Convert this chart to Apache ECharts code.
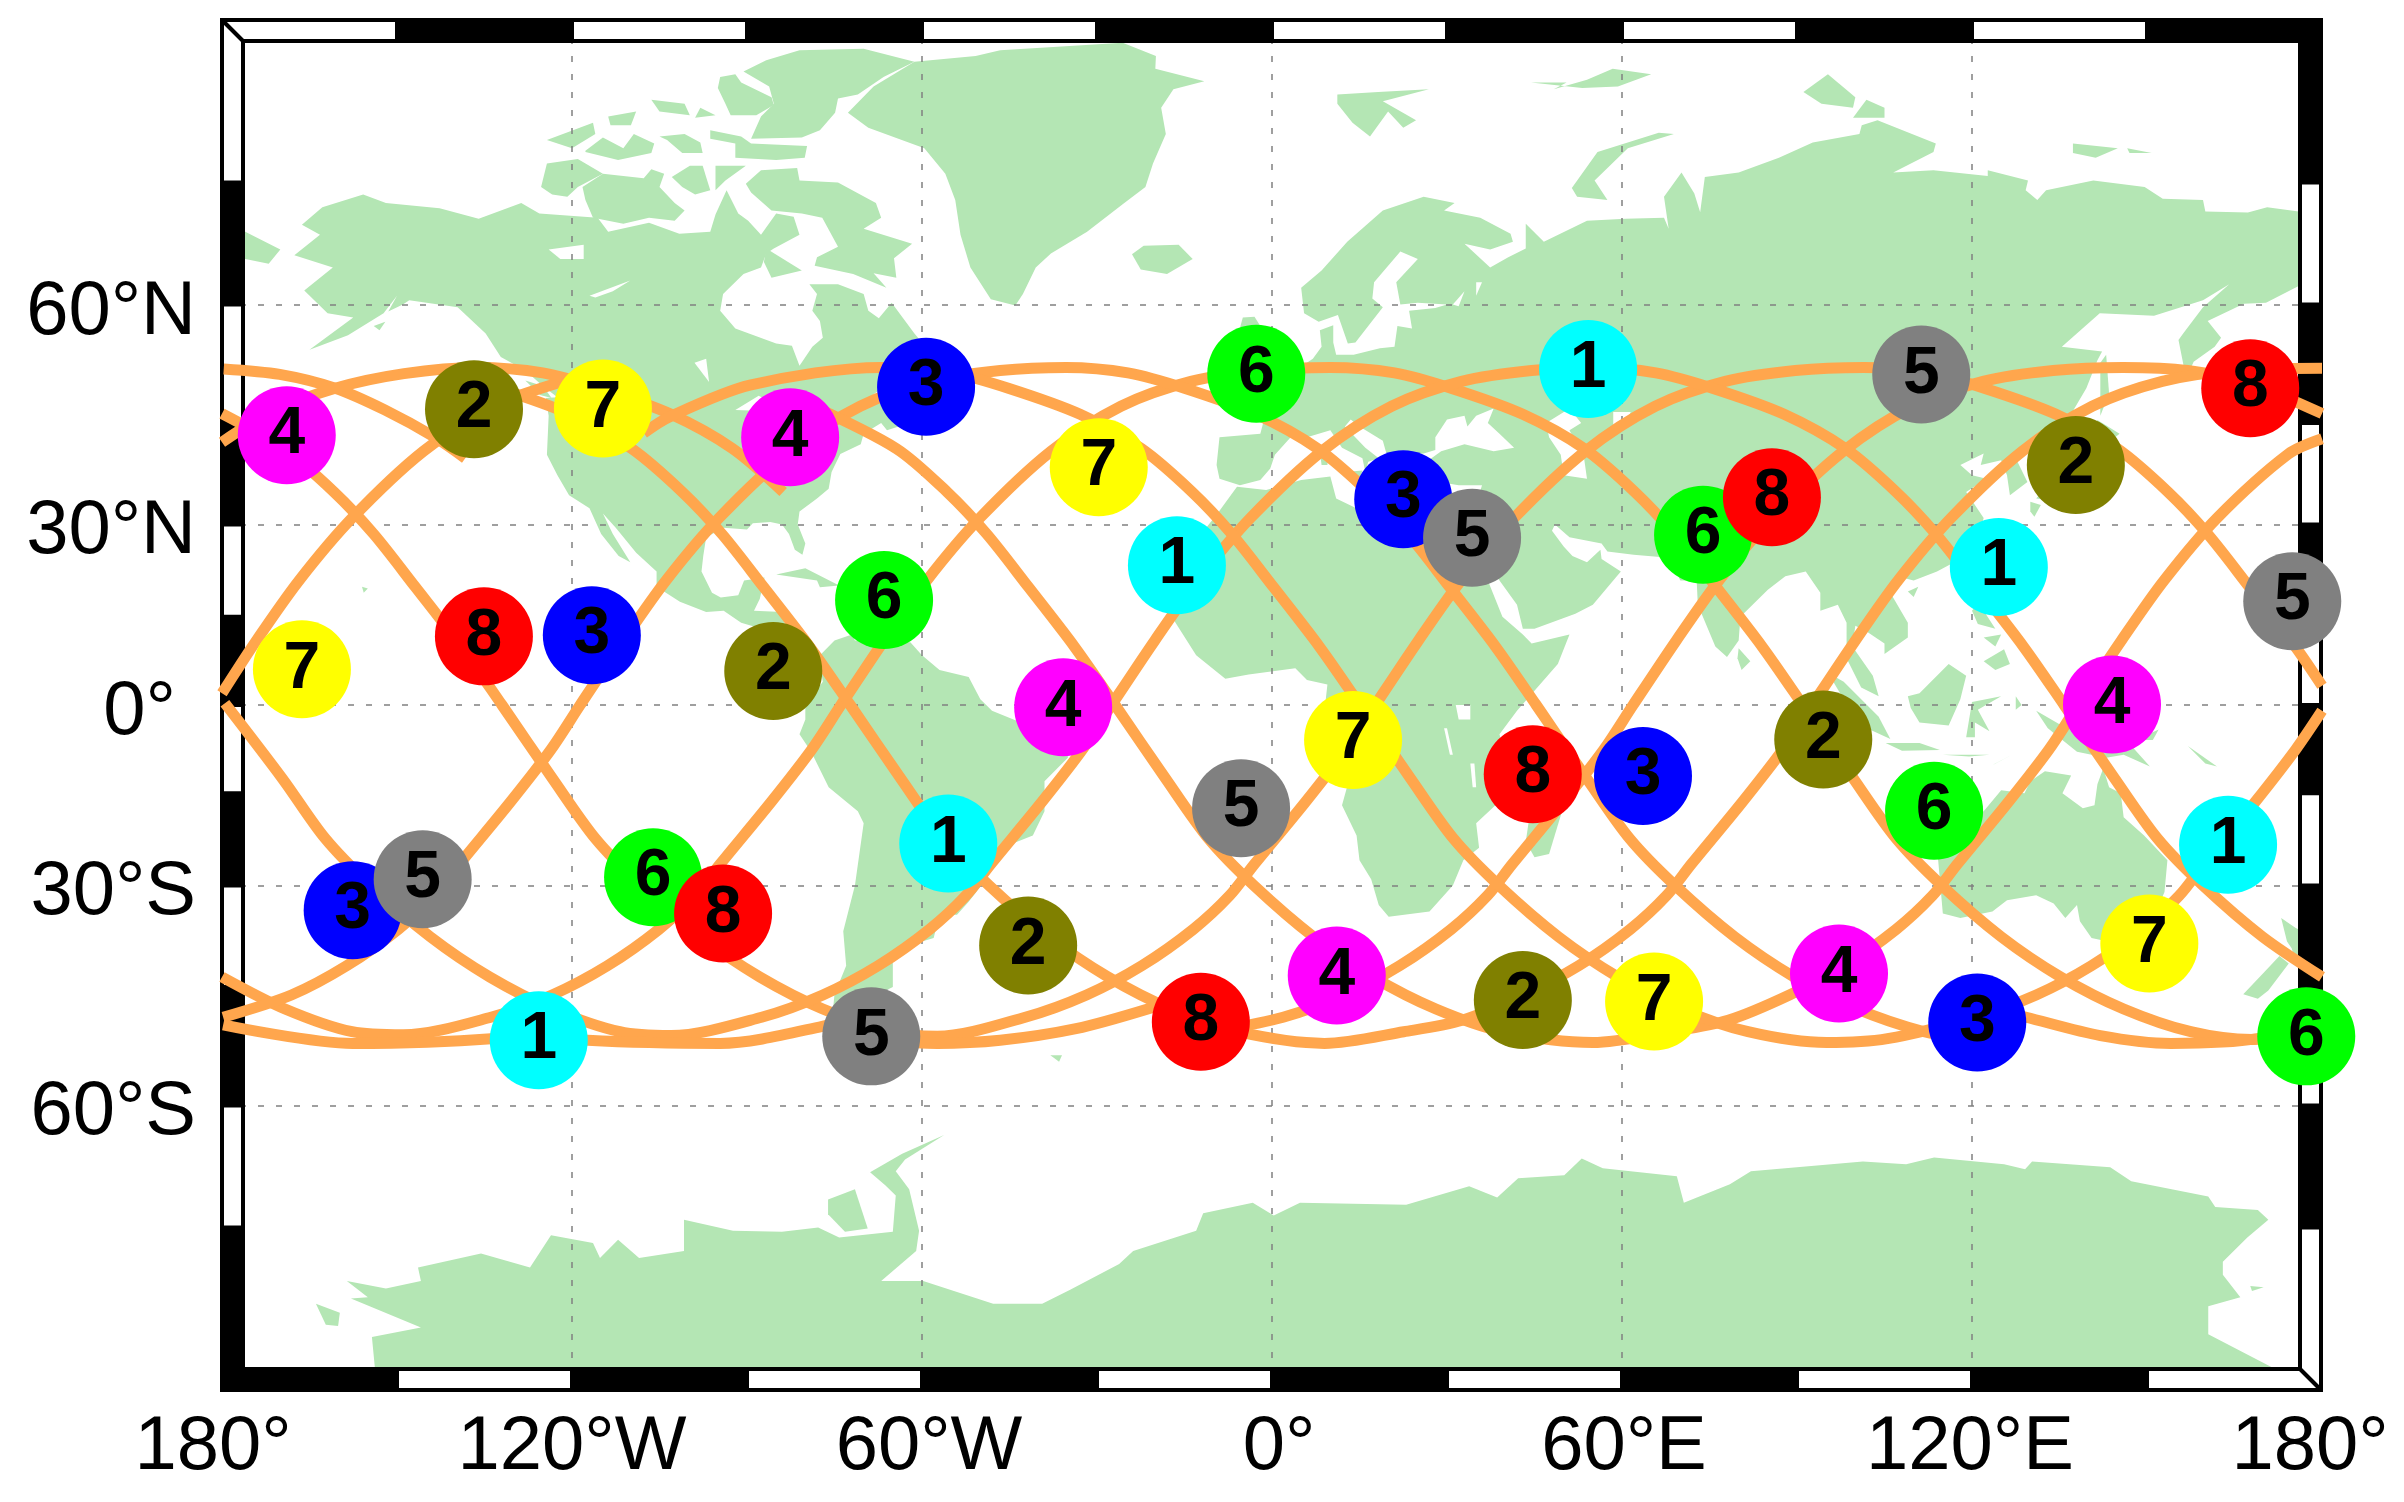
<!DOCTYPE html>
<html>
<head>
<meta charset="utf-8">
<title>Ground tracks</title>
<script src="https://cdn.jsdelivr.net/npm/echarts@6/dist/echarts.min.js"></script>
<style>
html, body { margin: 0; padding: 0; background: #fff; }
#chart { width: 2404px; height: 1502px; }
</style>
</head>
<body>
<div id="chart"></div>
<script>
// tick values and labels
const lonTicks = [-180, -120, -60, 0, 60, 120, 180];
const lonLabels = ['180°', '120°W', '60°W', '0°', '60°E', '120°E', '180°'];
const latTicks = [60, 30, 0, -30, -60];
const latLabels = ['60°N', '30°N', '0°', '30°S', '60°S'];

// frame blocks
const frameLons = [-180, -150, -120, -90, -60, -30, 0, 30, 60, 90, 120, 150, 180];
const frameLats = [85, 72.5, 60, 45, 30, 15, 0, -15, -30, -45, -60, -72.5, -85];

// satellite positions [lon, lat]
const sat1 = [[54.2, 52.2], [-16.3, 23.5], [-55.5, -23.3], [-125.7, -52.1], [124.6, 23.2], [163.9, -23.5]];
const sat2 = [[-136.8, 46.9], [-85.5, 5.8], [-41.8, -39.1], [43.0, -46.8], [94.5, -5.9], [137.8, 39.0]];
const sat3 = [[-59.3, 49.9], [-116.6, 11.9], [-157.6, -33.8], [22.5, 33.9], [63.6, -12.1], [120.9, -49.8]];
const sat4 = [[-168.9, 43.3], [-82.6, 43.0], [-35.8, -0.4], [11.1, -43.4], [97.2, -43.1], [144, 0.1]];
const sat5 = [[-145.6, -29.0], [-68.7, -51.6], [-5.3, -17.5], [34.3, 27.9], [111.3, 51.5], [174.9, 17.6]];
const sat6 = [[-2.7, 51.6], [-66.5, 17.8], [-106.1, -28.7], [73.9, 28.4], [113.5, -17.9], [177.3, -51.6]];
const sat7 = [[-114.7, 47.0], [-29.7, 38.7], [-166.3, 6.1], [13.9, -6.0], [65.5, -47.0], [150.4, -38.8]];
const sat8 = [[167.7, 49.7], [85.7, 34.2], [-135.1, 11.7], [-94.1, -34.3], [-12.2, -49.7], [44.7, -11.8]];

// ground track pieces [lon, lat]
const track1 = [[-180, 2], [-174.1, 11], [-166.8, 21], [-157.7, 31], [-145.5, 41], [-133.5, 47.3], [-121.5, 50.6], [-116.9, 51.2]];
const track2 = [[-179.7, 52.2], [-170.1, 51.5], [-160.6, 49.7], [-152.1, 46.8], [-143.5, 43], [-138.3, 40]];
const track3 = [[-180, 42.3], [-171.8, 46.4], [-160.6, 49.7], [-148.8, 51.6], [-136.3, 52.4], [-125, 51.7], [-115.3, 49.7], [-103, 46.2], [-92.5, 41.4], [-83.8, 35]];
const track4 = [[-180, 46.3], [-169.5, 41.4], [-160.8, 35], [-154, 28.5], [-146.9, 20], [-139, 10], [-132, 0], [-123.3, -12.6], [-116, -22.5], [-108.2, -30], [-98, -37.8], [-87.8, -43.6], [-77, -48], [-65.5, -51], [-57.4, -51.6], [-42.3, -49.1], [-31.8, -46.1], [-22.3, -42], [-13.5, -36.7], [-7.3, -31.6], [-3, -26.6], [5.7, -16.5], [12.7, -7.6], [17.7, 0], [25.1, 11], [32.4, 21], [41.5, 31], [53.7, 41], [65.7, 47.3], [77.7, 50.6], [89.7, 52], [101.4, 52.4], [112.4, 51.7], [122.1, 49.7], [134.4, 46.2], [144.9, 41.4], [153.6, 35], [160.4, 28.5], [167.5, 20], [175.4, 10], [180, 3.3]];
const track5 = [[-180, -43.6], [-169.2, -48], [-157.7, -51], [-148.9, -51.4], [-133.9, -49.1], [-123.4, -46.1], [-113.9, -42], [-105.1, -36.7], [-98.9, -31.6], [-94.6, -26.6], [-85.9, -16.5], [-78.9, -7.6], [-73.9, 0], [-66.5, 11], [-59.2, 21], [-50.1, 31], [-37.9, 41], [-25.9, 47.3], [-13.9, 50.6], [-1.9, 52], [10, 52.4], [21, 51.7], [30.7, 49.7], [43, 46.2], [53.5, 41.4], [62.2, 35], [69, 28.5], [76.1, 20], [84, 10], [91, 0], [99.7, -12.6], [107, -22.5], [114.8, -30], [125, -37.8], [135.2, -43.6], [146, -48], [157.5, -51], [168, -52], [174, -51.5], [180, -50.1]];
const track6 = [[-179.5, 0.3], [-169.6, -12.6], [-162.3, -22.5], [-154.5, -30], [-144.3, -37.8], [-134.1, -43.6], [-123.3, -48], [-111.8, -51], [-103, -51.5], [-87.5, -49.1], [-77, -46.1], [-67.5, -42], [-58.7, -36.7], [-52.5, -31.6], [-48.2, -26.6], [-39.5, -16.5], [-32.5, -7.6], [-27.5, 0], [-20.1, 11], [-12.8, 21], [-3.7, 31], [8.5, 41], [20.5, 47.3], [32.5, 50.6], [44.5, 52], [55.5, 52.4], [65.8, 51.7], [75.5, 49.7], [87.8, 46.2], [98.3, 41.4], [107, 35], [113.8, 28.5], [120.9, 20], [128.8, 10], [135.8, 0], [144.5, -12.6], [151.8, -22.5], [159.6, -30], [169.8, -37.8], [180, -43.6]];
const track7 = [[-179.8, -49.1], [-168.1, -46.1], [-158.6, -42], [-149.8, -36.7], [-143.6, -31.6], [-139.3, -26.6], [-130.6, -16.5], [-123.6, -7.6], [-118.6, 0], [-111.2, 11], [-103.9, 21], [-94.8, 31], [-82.6, 41], [-70.6, 47.3], [-58.6, 50.6], [-46.6, 52], [-35.3, 52.4], [-24.7, 51.7], [-15, 49.7], [-2.7, 46.2], [7.8, 41.4], [16.5, 35], [23.3, 28.5], [30.4, 20], [38.3, 10], [45.3, 0], [54, -12.6], [61.3, -22.5], [69.1, -30], [79.3, -37.8], [89.5, -43.6], [100.3, -48], [111.8, -51], [117.9, -51.6]];
const track8 = [[-179.8, -50.1], [-157.6, -52.5], [-133.9, -51.9], [-126.3, -50.6]];
const track9 = [[123.1, -47.9], [129.3, -49.1], [142, -51.5], [154.1, -52.5], [168.9, -51.9], [180, -49.1]];
const track10 = [[-126.3, -51.2], [-117.3, -52.1], [-94.6, -52.5], [-77.1, -50.3], [-70.6, -48.6]];
const track11 = [[-67.2, -52.1], [-57.4, -52.5], [-46.6, -52.1], [-33.6, -50.6], [-21.3, -48], [-17.5, -46.8]];
const track12 = [[-8.9, -50.8], [1.9, -49.1], [12.4, -46.1], [21.9, -42], [30.7, -36.7], [36.9, -31.6], [41.2, -26.6], [49.9, -16.5], [56.9, -7.6], [61.9, 0], [69.3, 11], [76.6, 21], [85.7, 31], [97.9, 41], [109.9, 47.3], [121.9, 50.6], [133.9, 52], [145.9, 52.4], [157, 52], [168, 50.2], [180, 46.3]];
const track13 = [[-132.6, 49.7], [-120.3, 46.2], [-109.8, 41.4], [-101.1, 35], [-94.3, 28.5], [-87.2, 20], [-79.3, 10], [-72.3, 0], [-63.6, -12.6], [-56.3, -22.5], [-48.5, -30], [-38.3, -37.8], [-28.1, -43.6], [-17.3, -48], [-5.8, -51], [9, -52.5], [22.6, -51], [32.6, -49.5], [43.1, -46.1], [52.6, -42], [61.4, -36.7], [67.6, -31.6], [71.9, -26.6], [80.6, -16.5], [87.6, -7.6], [92.6, 0], [100, 11], [107.3, 21], [116.4, 31], [128.6, 41], [140.6, 47.3], [152.6, 50.6], [164.6, 52], [180, 52.3]];
const track14 = [[-79.2, 47.5], [-64.4, 41.4], [-55.7, 35], [-48.9, 28.5], [-41.8, 20], [-33.9, 10], [-26.9, 0], [-18.2, -12.6], [-10.9, -22.5], [-3.1, -30], [7.1, -37.8], [17.3, -43.6], [28.1, -48], [39.6, -51], [55, -52.4], [68.2, -51], [78.2, -49.5], [88.7, -46.1], [98.2, -42], [107, -36.7], [113.2, -31.6], [117.5, -26.6], [126.2, -16.5], [133.2, -7.6], [138.2, 0], [145.6, 11], [152.9, 21], [162, 31], [174.2, 40.6], [180, 42.8]];
const track15 = [[-107.7, 43.6], [-103.4, 45.8], [-89.5, 50.1], [-67, 52.4], [-54.9, 51.7], [-45.2, 49.7], [-32.9, 46.2], [-22.4, 41.4], [-13.7, 35], [-6.9, 28.5], [0.2, 20], [8.1, 10], [15.1, 0], [23.8, -12.6], [31.1, -22.5], [38.9, -30], [49.1, -37.8], [59.3, -43.6], [70.1, -48], [81.6, -51], [95.1, -52.4], [105.5, -51.9], [120.5, -49.1], [131, -46.1], [140.5, -42], [149.3, -36.7], [155.5, -31.6], [159.8, -26.6], [168.5, -16.5], [175.5, -7.6], [180, -1]];
const tracks = [track1, track2, track3, track4, track5, track6, track7, track8, track9, track10, track11, track12, track13, track14, track15];

// land outlines [lon, lat]
const americas = [[-166.3, 68.5], [-162.8, 70.2], [-155.8, 71.4], [-151.9, 70.6], [-142.7, 70.1], [-136, 69.1], [-128.7, 70.6], [-125.6, 69.6], [-115.6, 69.2], [-113.8, 67.8], [-106.8, 68.7], [-101.6, 67.6], [-96.3, 67.8], [-95.4, 69.5], [-93.5, 71.8], [-91.5, 69.6], [-89.8, 68.9], [-87.6, 67.5], [-85, 69.6], [-82, 69.3], [-81, 67.5], [-85.4, 66.1], [-86.7, 65.6], [-87.6, 64.1], [-90.6, 63.4], [-94.1, 61.2], [-94.6, 59.3], [-92, 57.2], [-85, 55.4], [-82.3, 55.1], [-81, 52.6], [-78.8, 55], [-77, 56.1], [-77.5, 58.1], [-78.8, 59.3], [-78, 61.2], [-79.3, 62.3], [-74.4, 62.3], [-70, 61.2], [-69.2, 59.3], [-67.4, 58.4], [-65.2, 60.2], [-61.3, 56.6], [-60, 55.5], [-56, 53], [-58, 51.3], [-60, 50.2], [-66, 50.2], [-69, 48.5], [-65, 49], [-64.5, 47.5], [-61, 46], [-64, 44.5], [-66, 44], [-67, 45], [-70, 43.5], [-70.5, 42], [-74, 40.6], [-75.5, 38], [-76, 35.5], [-78, 34], [-81, 32], [-81.3, 30], [-80, 27], [-80.5, 25.2], [-81.8, 26], [-82.8, 28.5], [-84, 30], [-86, 30.4], [-89, 30.2], [-90, 29.2], [-94, 29.5], [-97, 28], [-97.5, 25], [-97.8, 22.5], [-96, 19], [-94.5, 18.2], [-91.5, 18.6], [-90.5, 21], [-87, 21.5], [-87.8, 18], [-88.8, 16], [-84, 15.8], [-83.3, 13], [-83.7, 11], [-82, 9], [-79.5, 9.5], [-77.4, 8.6], [-75, 11], [-72, 12], [-71.5, 11], [-68, 11], [-62, 10.7], [-60, 8.5], [-57, 6], [-52, 4.8], [-50, 1], [-48, -1], [-44, -2.6], [-40, -3], [-37, -5], [-35, -7], [-35, -9], [-39, -13], [-39, -18], [-41, -22], [-45, -23.5], [-48.5, -26], [-49, -29], [-52, -32.5], [-54, -34.5], [-57, -34.5], [-58, -38], [-62, -39], [-65, -41], [-65, -45], [-67.5, -46], [-66, -48], [-69, -51], [-68, -53], [-65, -55], [-69, -55.5], [-74, -53], [-75.5, -50], [-75, -46], [-73, -42], [-73.5, -37], [-71.5, -30], [-70, -20], [-71, -18], [-76, -14], [-79, -8], [-81, -5], [-80, -2.5], [-80, 0], [-78.5, 2], [-77, 4], [-77.5, 7], [-78.5, 8.5], [-80, 7.3], [-83, 8.2], [-85.7, 10], [-87.5, 13], [-91, 14], [-94, 16], [-97, 15.8], [-101.5, 17.5], [-105.5, 20], [-105.5, 22.5], [-109, 25.5], [-112.5, 29.5], [-114.7, 31.7], [-113, 28.5], [-110, 24], [-112, 25], [-115, 28.5], [-117, 32.5], [-120.5, 34.5], [-122.5, 37.5], [-124.3, 40.5], [-124, 46], [-124.5, 48.4], [-122.5, 48.5], [-125, 50], [-128, 52], [-132.2, 53.7], [-134.8, 56.6], [-139.6, 59.7], [-147.9, 60.5], [-149, 60], [-151.5, 59.2], [-150, 61], [-152.3, 59], [-158.4, 56.4], [-165, 54.6], [-157.5, 58.5], [-161.9, 59], [-165.9, 61.6], [-161, 64.1], [-167.6, 65.4], [-163.2, 67.5]];
const greenland = [[-61.3, 82.2], [-68.3, 80.4], [-72.7, 78.4], [-69.2, 77.2], [-59.6, 75.5], [-56, 73.3], [-54.3, 70.9], [-53.4, 67.5], [-51.7, 64.1], [-48.2, 60.6], [-44, 59.9], [-42.7, 61.2], [-40.5, 64.1], [-37.9, 65.6], [-31.7, 67.8], [-25.6, 70.5], [-21.7, 72.1], [-20.4, 74.2], [-18.2, 76.7], [-19, 78.8], [-16.9, 80.2], [-11.6, 80.8], [-20, 81.7], [-19.9, 82.6], [-25.6, 83.5], [-46.6, 83], [-50.8, 82.6]];
const afroEurasia = [[-5.5, 36], [-9, 37], [-9.5, 39], [-9, 43], [-2, 43.5], [-1.2, 46], [-4.5, 48.4], [-1.5, 48.8], [1.5, 50.8], [4, 52], [7, 53.5], [8.5, 55], [8.2, 57], [10.5, 57.6], [10.5, 55.5], [11, 54], [14, 54], [18.5, 54.8], [21, 55], [21.5, 57.5], [24, 57.2], [23.5, 59.3], [28, 59.6], [30, 60], [25, 60.2], [22, 60], [21.3, 62.5], [25, 65], [22, 65.8], [17.5, 62.5], [17.2, 60.7], [19, 59.7], [16.5, 57.5], [14.3, 55.5], [13, 55.4], [11.3, 58.8], [8, 58], [5.5, 59], [5, 61.9], [8.5, 63.8], [12.9, 66.8], [19, 69.9], [26, 71.2], [31.3, 70.6], [29.5, 69.9], [35.7, 69.2], [40.9, 67.6], [41.3, 66.8], [37.4, 66], [33, 66.6], [37.4, 64.1], [40.5, 65.2], [43.5, 66.1], [43.5, 68.6], [46.6, 66.8], [54, 68.9], [60.6, 69.1], [67.2, 69.2], [68, 68.1], [67.2, 71.2], [70.2, 73.4], [72.4, 71.5], [74.6, 67.5], [71.5, 66.3], [73, 68], [74.2, 73], [80, 73.4], [86.9, 74.7], [92.7, 76], [100.7, 76.7], [101.1, 77.4], [103.8, 77.8], [113.8, 75.9], [113.4, 75.2], [106.5, 73.4], [113.4, 73.6], [122.7, 73.1], [122.7, 73.6], [129.6, 72.7], [129.2, 71.8], [131.2, 70.9], [132.7, 71.8], [140.8, 72.7], [149.6, 72.1], [152.7, 71], [159.6, 70.9], [160, 69.8], [167.3, 69.7], [170.6, 70.2], [176, 69.8], [180, 69.2], [180, 65], [177, 64.7], [179, 62.5], [176, 62.1], [170.4, 60.2], [166.6, 60.1], [160.4, 58.1], [162.7, 56.1], [161.6, 55], [158, 53.1], [156.7, 51], [155.4, 55.8], [156.2, 56.6], [159.6, 59.7], [164.1, 62.3], [159.6, 60.5], [151.2, 58.7], [141.9, 59], [135.4, 55], [142.3, 54.4], [141.5, 53.3], [139.6, 49.7], [135, 43.5], [130, 42.5], [127.5, 40], [129.5, 36.5], [126.5, 34.5], [126, 37.5], [125, 39.7], [121.5, 39], [122, 40.7], [118, 39], [120, 37.5], [122.5, 37], [119, 35], [122, 31], [121, 28], [118, 24.5], [114, 22.5], [110, 21], [108, 21.5], [106, 19], [109, 14], [109, 11.5], [105, 8.7], [105, 10.5], [102, 12.5], [100, 13.5], [99.5, 10], [103, 5], [104, 1.5], [101, 3], [98.5, 8], [98.5, 14], [97, 17], [94, 16], [94, 19], [91.5, 22.5], [88, 21.7], [85, 19.5], [80.3, 15], [80, 11], [78, 8.2], [76, 10], [73, 17], [72.8, 21], [70, 21], [69, 23], [67, 24.8], [62, 25.2], [57.5, 25.7], [56.5, 27], [51, 28], [48.5, 30], [48, 29], [50, 26.5], [51.5, 25], [54, 24], [56.3, 26], [56.5, 24.5], [59.8, 22.5], [55, 17], [52, 15.5], [45, 13], [43, 13], [42, 17], [39, 21], [35, 28], [34.5, 28], [32.5, 30], [34, 26], [37, 21], [39.5, 15], [43, 12], [44.5, 10.5], [51, 12], [49, 7], [42, -1], [39, -5], [40.5, -11], [40.5, -15], [35, -20], [35.5, -24], [32.8, -26], [31, -30], [27, -34], [20, -34.8], [18.3, -33], [17, -29], [15, -26], [14.5, -22], [12, -17], [13.7, -11], [12, -5], [9, -1], [9.5, 3.5], [6, 4.3], [4, 6.3], [-4, 5.2], [-8, 4.5], [-13, 8.5], [-17, 14.7], [-16.5, 19], [-17, 21], [-13, 27.5], [-9.5, 31.5], [-6, 35.8], [-1, 35.3], [5, 36.8], [10, 37.3], [11, 34], [15, 32.3], [20, 31.5], [20, 32.8], [25, 31.8], [31, 31.3], [32.5, 31], [34.5, 31.5], [36, 36], [32, 36], [27.5, 36.7], [26.5, 39.5], [29, 41], [33, 42], [38, 41], [41.5, 41.5], [39, 43.5], [37, 45], [38, 47], [35, 46], [33.5, 44.5], [33, 46], [30, 45.5], [28, 43], [28, 41.2], [26, 40.7], [23, 40.5], [24, 38], [22.7, 36.5], [21, 38], [19.5, 41], [19, 42.5], [15, 44.5], [13.5, 45.5], [12.5, 44.5], [16, 41.5], [18.3, 40], [16.5, 39.5], [16, 38], [15.5, 40], [12, 41.5], [10, 44], [6, 43], [3.2, 43], [0.5, 40.5], [-0.3, 38.5], [-2, 36.8]];
const chukotka = [[-180, 69], [-175, 67.5], [-170, 66], [-172, 64.5], [-176, 65], [-180, 65]];
const australia = [[113.5, -22], [114.2, -26], [115, -34.3], [118, -35], [123.5, -34], [126, -32.3], [131, -31.5], [134, -32.8], [136, -35], [138, -33], [138.5, -35.5], [140.5, -38], [146, -39], [150, -37.2], [153, -31], [153.5, -26], [149.5, -22], [146, -19], [145.5, -15], [143.5, -14], [142.5, -10.8], [141.5, -13.5], [141, -17], [139, -17.5], [135.5, -15], [137, -12], [132.5, -11.3], [130, -13], [129, -15], [125, -14.5], [122, -18], [117, -20.7]];
const antarctica = [[-153.8, -83.5], [-154.3, -81.4], [-145.9, -80.7], [-157.9, -78.5], [-155, -78.4], [-158.6, -77.1], [-151.9, -77.7], [-145.9, -77.1], [-146.4, -76], [-135.6, -74.8], [-127.2, -76], [-123.6, -73.2], [-116.4, -73.9], [-115.2, -75.2], [-112.1, -73.6], [-108.5, -75.2], [-100.8, -74.6], [-100.8, -71.8], [-92.4, -72.8], [-84, -72.9], [-77.8, -72.5], [-74.2, -73.4], [-65, -72.9], [-64.5, -69.5], [-66.3, -68.5], [-68.9, -67.2], [-63.4, -65.3], [-56.2, -63.3], [-62.9, -65.9], [-64.5, -67.1], [-62.2, -68.9], [-60.5, -72.8], [-61, -74.6], [-67, -77.1], [-59.8, -77.1], [-47.8, -78.9], [-39.4, -78.9], [-34.6, -77.8], [-26.2, -75.7], [-23.8, -74.6], [-13, -72.8], [-11.8, -71.2], [-3.3, -70.2], [0.3, -71.4], [4.8, -70.2], [23, -70.4], [33.8, -68.6], [38.6, -69.7], [42.2, -67.8], [50.1, -67.5], [53.1, -65.8], [56.7, -66.8], [69.4, -67.6], [70.6, -70.2], [78.5, -68.4], [82.1, -67.1], [101.3, -66.1], [108.7, -66.4], [113.5, -65.7], [125.5, -66.4], [129.1, -66.9], [130.3, -66.1], [143.7, -66.7], [147.3, -68.1], [160.5, -69.6], [161.7, -70.6], [169, -70.9], [170.8, -71.8], [167.2, -73.4], [163, -75.5], [163, -76.6], [166, -78.4], [160.5, -79.1], [160.5, -81.2], [171.4, -83.5], [175, -85], [-155, -85]];
const arcticIslands = [
    [[-90.6, 81.5], [-86.7, 82.3], [-81, 83], [-70, 83.1], [-61.3, 82.2], [-66.6, 81.1], [-71, 79.8], [-74.4, 79.5], [-74.9, 78.4], [-77.5, 77], [-80.6, 76.4], [-89.3, 76.3], [-87.6, 78.1], [-85.4, 79.1], [-86.2, 80.4]],
    [[-94.6, 81.1], [-92, 81.3], [-91, 80.7], [-85.8, 79.6], [-85.4, 79], [-88.4, 78.2], [-92.8, 78.2], [-93.7, 79.1], [-95, 80.3]],
    [[-106.4, 79.4], [-100.7, 79.1], [-99.8, 78.2], [-105, 78.5]],
    [[-98, 78.8], [-95.4, 78.2], [-98.9, 78]],
    [[-96.3, 77], [-91, 76.5], [-89.3, 75.9], [-79.7, 75.7], [-80.1, 74.7], [-85, 74.5], [-92, 74.7], [-92, 75.9], [-96.3, 76.3]],
    [[-105, 76.5], [-100.7, 76.7], [-98, 76], [-97.6, 75.1], [-101.1, 75.1], [-103.7, 76.2]],
    [[-117.7, 75.3], [-114.7, 76.4], [-111.2, 75.5], [-109.4, 76.7], [-105.9, 75.9], [-106.4, 75.1], [-112.1, 74.5], [-117.7, 75.2]],
    [[-124.3, 76.2], [-116.4, 77.6], [-116, 76.7], [-120, 75.5]],
    [[-113.8, 78.1], [-109, 78.5], [-109.9, 77.4], [-113.4, 77.4]],
    [[-124.3, 74.2], [-119, 74.6], [-114.7, 73.3], [-119, 72.1], [-120.8, 71.2], [-123.4, 71.4], [-125.3, 72.1]],
    [[-118.2, 72.1], [-114.7, 73.3], [-107.7, 72.9], [-106.4, 73.7], [-104.2, 73.3], [-105, 72.1], [-102.4, 70.6], [-100.7, 69.9], [-102.4, 68.9], [-106.8, 69.2], [-111.2, 68.6], [-116.4, 69.2], [-117.7, 70.9]],
    [[-102.9, 73], [-99.8, 74], [-97.6, 74], [-96.3, 71.8], [-98.9, 71.4], [-101.1, 72.1]],
    [[-95.4, 74], [-90.2, 74], [-93.7, 72.7], [-95.4, 71.8]],
    [[-90.2, 72.4], [-87.6, 73.6], [-81.4, 73.8], [-81, 72.7], [-74.4, 72.5], [-67.9, 70.6], [-67, 69.2], [-70, 68.1], [-61.7, 66.6], [-64.8, 65.1], [-64.4, 63], [-68.3, 63.5], [-66.1, 61.9], [-71.8, 63.4], [-78.4, 64.3], [-78, 65.2], [-74.4, 66.3], [-77.1, 69.2], [-80.6, 69.6], [-85.8, 69.9], [-89.3, 71.6]],
    [[-86.7, 66.1], [-80.6, 63.8], [-85.8, 63], [-87.1, 64.7]],
    [[51.4, 72], [55.8, 75.2], [66.3, 76.8], [68.9, 76.7], [61, 75.5], [55.3, 72.7], [57.5, 70.9], [52.3, 71.2]],
    [[11.2, 79.8], [18.2, 80], [26.9, 80.2], [19, 79.3], [24.7, 77.8], [22.5, 77.2], [19.9, 78.5], [16.8, 76.5], [13.8, 77.6], [11.2, 79.1]],
    [[44.4, 80.7], [50.5, 80.7], [48.3, 80.2], [54, 80.9], [58.4, 81.7], [65, 81.3], [59.3, 80.4], [53.2, 80.3]],
    [[91.1, 80], [95.3, 81.3], [100, 79.6], [99.6, 78.8], [94.2, 79.1]],
    [[99.6, 78], [101.9, 79.4], [105, 78.8], [105, 78]],
    [[137.3, 75.9], [145, 75.5], [141.2, 74.7], [137.3, 75.1]],
    [[146.6, 75.5], [150.8, 75.1], [147, 75.1]],
    [[-24, 65.5], [-22, 66.4], [-16, 66.5], [-13.6, 65], [-18, 63.4], [-22.5, 63.9]]
];
const otherIslands = [
    [[-59, 47.7], [-55.5, 51.5], [-53, 47.5], [-55, 46.8]],
    [[-85, 22], [-80, 23], [-74.2, 20.2], [-77.5, 19.9], [-78, 21]],
    [[-74.5, 18.5], [-72, 20], [-68.5, 18.5], [-71.5, 17.7]],
    [[-128, 50.7], [-125, 50], [-123.5, 48.4], [-125.5, 48.8]],
    [[-154, 57.5], [-152, 58], [-153, 57]],
    [[-156, 20], [-155, 19.7], [-155.7, 19]],
    [[-61, -51.5], [-58, -51.5], [-59, -52.3]],
    [[-38, -54], [-36, -54], [-36.5, -54.8]],
    [[-5.5, 50], [1, 51.3], [1.5, 52.8], [-1.5, 55], [-2, 57.5], [-3, 58.6], [-5, 58.5], [-6, 56], [-3, 54], [-5, 52], [-3.5, 51.3]],
    [[-10, 52], [-6, 52], [-5.7, 54.8], [-8, 55.2], [-10, 54]],
    [[12.5, 38], [15.5, 38.2], [15, 36.7]],
    [[8.2, 41], [9.7, 41], [9.5, 39], [8.5, 39]],
    [[23.5, 35.5], [26, 35.2], [24, 35]],
    [[32.5, 35], [34.5, 35.5], [33.5, 34.6]],
    [[80, 9.7], [82, 7.5], [80.5, 6], [79.8, 8]],
    [[131, 34], [135, 33.6], [140, 35], [141, 38], [141.5, 41], [140, 40.5], [137, 37], [132.5, 35.5]],
    [[140, 42], [141.5, 45.4], [145.3, 43.5], [143, 42]],
    [[130, 33.5], [131.8, 33], [130.7, 31.2], [130, 32]],
    [[142, 46], [143.5, 49], [143, 54], [142, 53], [142, 49]],
    [[120.2, 23], [121.6, 25.2], [121, 22]],
    [[109, 19.2], [110.8, 20], [110, 18.3]],
    [[120, 16], [122, 18.5], [122, 16], [124, 13], [121, 13.8]],
    [[122, 7.5], [125.5, 9.5], [126.5, 7], [124, 6]],
    [[122, 11.5], [125, 12], [124, 10]],
    [[109, 1.5], [111, 2], [116, 7], [119, 5], [118, 1], [116, -3.5], [111, -3], [109.5, -0.5]],
    [[95.3, 5.5], [98, 4], [104, -2], [106, -5.8], [102, -4], [98, 1]],
    [[105.2, -6.5], [111, -6.5], [114.5, -7.7], [108, -7.8]],
    [[119, -5.5], [120, 0.5], [125, 1.5], [121, -0.8], [123, -4.5], [120.5, -3], [120.5, -5.5]],
    [[131, -1], [135, -3.3], [141, -2.6], [146, -5.5], [150.5, -10.5], [146, -8.5], [143, -9], [138, -8], [133, -4]],
    [[124, -10], [127, -8.4], [123.5, -10.3]],
    [[115, -8.5], [120, -8.5], [123, -8.5], [119.5, -8.8]],
    [[127.5, 1.5], [128.5, 0], [127.5, -0.8]],
    [[157, -7], [162, -10.5], [160, -10]],
    [[148, -6], [152, -4.2], [151, -6]],
    [[164, -20.2], [167, -22.3], [166, -22]],
    [[173, -35], [175.5, -36.5], [178.4, -37.7], [175.5, -41.5], [174.8, -39.5], [174, -38.5]],
    [[172.7, -40.6], [174.3, -41.7], [170.8, -45.5], [169, -46.6], [166.5, -46], [170, -43]],
    [[144.7, -41], [148.3, -41], [147.5, -43.5], [146, -43.5]],
    [[49.3, -12], [50.5, -15.5], [47.5, -25], [45, -25.5], [43.5, -23], [44.5, -16.5]],
    [[-76.1, -69.9], [-71.5, -68.9], [-69.3, -72.6], [-73.2, -72.9], [-76.1, -71.3]],
    [[-163.9, -78.9], [-159.8, -79.6], [-160.1, -80.6], [-162.2, -80.5]],
    [[167.7, -77.5], [170, -77.6], [168, -77.9]]
];
const lakes = [
    [[-124, 66], [-118, 66.5], [-118, 65], [-122, 65]],
    [[-117, 61], [-110, 62.7], [-113, 61.5], [-116, 60.8]],
    [[-99, 53], [-96.5, 50.5], [-97, 53.5]],
    [[-92, 46.8], [-88, 48.7], [-85, 47.5], [-85, 46.5], [-88, 46.7]],
    [[-87.8, 42], [-86.5, 42], [-85, 45.8], [-87, 45.6]],
    [[-84, 46], [-80, 45], [-81.7, 43], [-83.5, 43.8]],
    [[-83, 41.6], [-79, 42.8], [-79.5, 42.5]],
    [[-79.5, 43.5], [-76.3, 44], [-76.5, 43.4]],
    [[47, 45], [51, 47], [53, 45], [51, 44], [53.5, 40], [54, 37], [50, 37.5], [49.5, 40.5], [47.5, 43]],
    [[58.5, 46.5], [61.5, 46.5], [60, 44], [58.5, 44]],
    [[104, 52], [109, 55.5], [110, 55.5], [106, 52]],
    [[31.5, 0], [34, 0], [34, -2.5], [32, -2.5]],
    [[29.5, -4], [30, -4], [31, -8.5], [30.5, -8.5]],
    [[34, -10], [34.7, -10], [35, -14], [34.4, -14]],
    [[31, 60], [33, 61.5], [32, 59.8]],
    [[35, 61], [36, 62.5], [35, 62.5]]
];
const landShapes = [americas, greenland, afroEurasia, chukotka, australia, antarctica, ...arcticIslands, ...otherIslands];

// Miller projection northing
function miller(lat) {
    return 1.25 * Math.log(Math.tan(Math.PI / 4 + 0.4 * lat * Math.PI / 180));
}

const dom = document.getElementById('chart');
const myChart = echarts.init(dom);

function polygonRender(list, fill) {
    return function (params, api) {
        const points = list[params.dataIndex].map(p => api.coord([p[0], miller(p[1])]));
        return { type: 'polygon', shape: { points: points }, style: { fill: fill } };
    };
}

// black and white frame, drawn from the lon/lat blocks
function frameRender(params, api) {
    const xOf = lon => api.coord([lon, 0])[0];
    const yOf = lat => api.coord([0, miller(lat)])[1];
    const L = xOf(-180), R = xOf(180), T = yOf(85), B = yOf(-85);
    const kids = [];
    const rect = (x1, y1, x2, y2, fill) => kids.push({
        type: 'rect', shape: { x: x1, y: y1, width: x2 - x1, height: y2 - y1 }, style: { fill: fill }
    });
    rect(L - 2, T - 2, R + 1, T + 23, '#000');
    rect(L - 2, B - 23, R + 1, B + 2, '#000');
    rect(L - 2, T - 2, L + 23, B + 2, '#000');
    rect(R - 24, T - 2, R + 1, B + 2, '#000');
    for (let i = 0; i < frameLons.length - 1; i++) {
        const a = Math.max(xOf(frameLons[i]) + 2, L + 2), b = Math.min(xOf(frameLons[i + 1]) - 2, R - 3);
        if (i % 2 === 0) rect(i === 0 ? L + 2 : a, T + 2, b, T + 19, '#fff');
        else rect(a, B - 19, i === frameLons.length - 2 ? R - 3 : b, B - 2, '#fff');
    }
    for (let i = 0; i < frameLats.length - 1; i++) {
        const a = yOf(frameLats[i]) + 2, b = yOf(frameLats[i + 1]) - 2;
        if (i % 2 === 0) rect(L + 2, i === 0 ? T + 2 : a, L + 19, b, '#fff');
        else rect(R - 20, a, R - 3, i === frameLats.length - 2 ? B - 2 : b, '#fff');
    }
    const miter = (x1, y1, x2, y2) => kids.push({
        type: 'line', shape: { x1: x1, y1: y1, x2: x2, y2: y2 }, style: { stroke: '#000', lineWidth: 4 }
    });
    miter(L, T, L + 21, T + 21);
    miter(R - 22, B - 21, R - 1, B);
    return { type: 'group', children: kids };
}

const seriesArr = [
    {
        type: 'custom', name: 'land', coordinateSystem: 'cartesian2d', z: 1, silent: true,
        renderItem: polygonRender(landShapes, '#b4e6b4'),
        data: landShapes.map((s, i) => [s[0][0], miller(s[0][1]), i]),
        encode: { x: 0, y: 1 }
    },
    {
        type: 'custom', name: 'lakes', coordinateSystem: 'cartesian2d', z: 2, silent: true,
        renderItem: polygonRender(lakes, '#fff'),
        data: lakes.map((s, i) => [s[0][0], miller(s[0][1]), i]),
        encode: { x: 0, y: 1 }
    },
    {
        type: 'custom', name: 'frame', coordinateSystem: 'cartesian2d', z: 4, silent: true,
        renderItem: frameRender, data: [[0, 0]], encode: { x: 0, y: 1 }
    }
];

tracks.forEach((t, i) => {
    seriesArr.push({
        type: 'line', name: 'track' + (i + 1), z: 5, smooth: 0.3, showSymbol: false, clip: false, silent: true,
        data: t.map(p => [p[0], miller(p[1])]),
        lineStyle: { color: '#ffa64d', width: 11, cap: 'butt', join: 'round' }
    });
});

const satColors = ['#00ffff', '#808000', '#0000ff', '#ff00ff', '#808080', '#00ff00', '#ffff00', '#ff0000'];
[sat1, sat2, sat3, sat4, sat5, sat6, sat7, sat8].forEach((s, i) => {
    seriesArr.push({
        type: 'scatter', name: String(i + 1), z: 6 + i, clip: false, symbolSize: 98, silent: true,
        data: s.map(p => [p[0], miller(p[1])]),
        itemStyle: { color: satColors[i], opacity: 1 },
        label: {
            show: true, position: 'inside', formatter: String(i + 1), color: '#000',
            fontFamily: 'Liberation Sans', fontWeight: 'bold', fontSize: 66
        }
    });
});

// hand placed tick labels in the original: small sideways nudges per label
const lonNudge = [-9, 0, 7, 7, 2, -2, -12];
const lonRich = {};
lonNudge.forEach((n, i) => {
    lonRich['x' + i] = { padding: [0, n < 0 ? -2 * n : 0, 0, n > 0 ? 2 * n : 0] };
});
const latRich = {
    y: { padding: [16, 0, 0, 0] },
    y0: { padding: [16, 20, 0, 0] }
};

const option = {
    animation: false,
    backgroundColor: '#fff',
    grid: { left: 222, top: 20, width: 2100, height: 1370, containLabel: false },
    xAxis: {
        type: 'value', min: -180, max: 180, interval: 60, z: 3,
        axisLine: { show: false }, axisTick: { show: false },
        splitLine: { show: true, lineStyle: { color: '#808080', width: 1.5, type: [6, 12] } },
        axisLabel: {
            color: '#000', fontFamily: 'Liberation Sans', fontSize: 76, margin: 20, hideOverlap: false,
            showMinLabel: true, showMaxLabel: true, rich: lonRich,
            formatter: v => {
                const i = lonTicks.indexOf(v);
                return `{x${i}|${lonLabels[i]}}`;
            }
        }
    },
    yAxis: {
        type: 'value', min: miller(-85), max: miller(85), z: 3,
        axisLine: { show: false },
        axisTick: { show: false, customValues: latTicks.map(miller) },
        splitLine: { show: true, lineStyle: { color: '#808080', width: 1.5, type: [6, 12] } },
        axisLabel: {
            color: '#000', fontFamily: 'Liberation Sans', fontSize: 76, margin: 26, hideOverlap: false,
            customValues: latTicks.map(miller), rich: latRich,
            formatter: v => {
                const i = latTicks.findIndex(t => Math.abs(miller(t) - v) < 1e-6);
                return `{${latTicks[i] === 0 ? 'y0' : 'y'}|${latLabels[i]}}`;
            }
        }
    },
    series: seriesArr
};

myChart.setOption(option);
</script>
</body>
</html>
